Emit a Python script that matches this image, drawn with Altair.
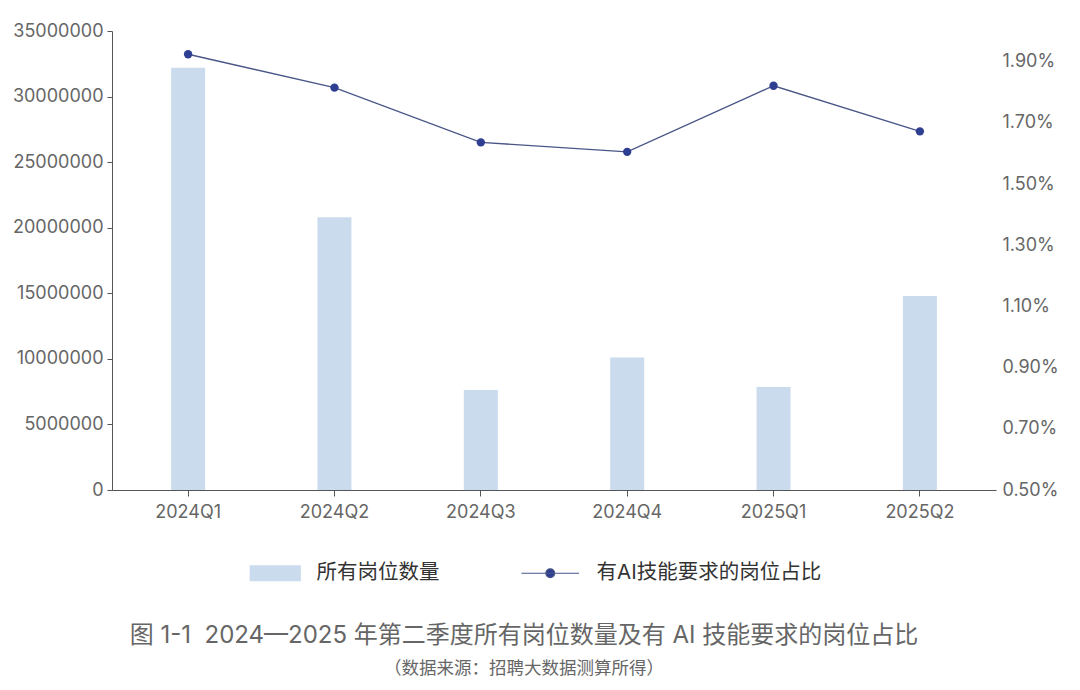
import altair as alt
import pandas as pd

quarters = ["2024Q1", "2024Q2", "2024Q3", "2024Q4", "2025Q1", "2025Q2"]
all_jobs = [32200000, 20800000, 7630000, 10100000, 7860000, 14790000]
ai_share = [0.01924, 0.01815, 0.01636, 0.01605, 0.01821, 0.01672]

bar_name = "所有岗位数量"
line_name = "有AI技能要求的岗位占比"
title_text = "图 1-1\u00a0\u00a02024—2025 年第二季度所有岗位数量及有 AI 技能要求的岗位占比"
subtitle_text = "（数据来源：招聘大数据测算所得）"

df = pd.DataFrame({"quarter": quarters, "jobs": all_jobs, "share": ai_share})
df["bar_series"] = bar_name
df["line_series"] = line_name

FONT = "Inter, 'Noto Sans CJK SC'"
TEXT_GRAY = "#666666"
AXIS_GRAY = "#555555"

x = alt.X("quarter:N", sort=quarters, title=None,
          scale=alt.Scale(paddingInner=0, paddingOuter=0.02),
          axis=alt.Axis(labelAngle=0, labelFontSize=18, labelColor=TEXT_GRAY,
                        domainColor=AXIS_GRAY, tickColor=AXIS_GRAY, tickSize=6,
                        labelPadding=7, grid=False))

rect_path = "M-3.2,-1H3.2V1H-3.2Z"
dot_line_path = "M-3.6,0H3.6M0.55,0A0.55,0.55,0,1,1,-0.55,0A0.55,0.55,0,1,1,0.55,0Z"

share_axis = alt.Axis(orient="right", values=[0.005, 0.007, 0.009, 0.011, 0.013,
                                              0.015, 0.017, 0.019],
                      format=".2%", labelFontSize=18, labelColor=TEXT_GRAY,
                      grid=False, domain=False, ticks=False, labelPadding=6)
share_scale = alt.Scale(domain=[0.005, 0.02], nice=False)

bars = alt.Chart(df).mark_bar(size=34).encode(
    x=x,
    y=alt.Y("jobs:Q", title=None,
            scale=alt.Scale(domain=[0, 35000000], nice=False),
            axis=alt.Axis(values=list(range(0, 35000001, 5000000)), format="d",
                          labelFontSize=18, labelColor=TEXT_GRAY, grid=False,
                          domainColor=AXIS_GRAY, tickColor=AXIS_GRAY, tickSize=5,
                          labelPadding=4)),
    color=alt.Color("bar_series:N", title=None,
                    scale=alt.Scale(range=["#cbdbee"]),
                    legend=alt.Legend(orient="none", legendX=153, legendY=532,
                                      symbolType=rect_path, symbolSize=256,
                                      symbolStrokeWidth=0, labelOffset=31,
                                      labelFontSize=20.5, labelColor="#333333",
                                      labelLimit=400)),
)

line = alt.Chart(df).mark_line(strokeWidth=1.3).encode(
    x=x,
    y=alt.Y("share:Q", title=None, scale=share_scale, axis=share_axis),
    stroke=alt.Stroke("line_series:N", title=None,
                      scale=alt.Scale(range=["#4a5688"]),
                      legend=alt.Legend(orient="none", legendX=428, legendY=532,
                                        symbolType=dot_line_path, symbolSize=256,
                                        symbolStrokeWidth=1.2,
                                        symbolFillColor="#2e3f92",
                                        labelOffset=36, labelFontSize=20.5,
                                        labelColor="#333333", labelLimit=400)),
)

points = alt.Chart(df).mark_circle(size=70, color="#2e3f92", opacity=1).encode(
    x=x,
    y=alt.Y("share:Q", title=None, scale=share_scale, axis=share_axis),
)

right = alt.layer(line, points)

chart = alt.layer(bars, right).resolve_scale(y="independent").properties(
    width=884,
    height=459,
    padding={"top": 14, "left": 4, "right": 10, "bottom": 5},
    title=alt.Title(title_text, subtitle=subtitle_text, orient="bottom", anchor="middle",
                    fontSize=24, fontWeight="normal", color=TEXT_GRAY,
                    subtitleFontSize=17.5, subtitleColor=TEXT_GRAY, subtitlePadding=12,
                    offset=40, dx=-30),
).configure(font=FONT).configure_view(stroke=None)

chart.save("out.html", embed_options={"renderer": "svg", "actions": False})
